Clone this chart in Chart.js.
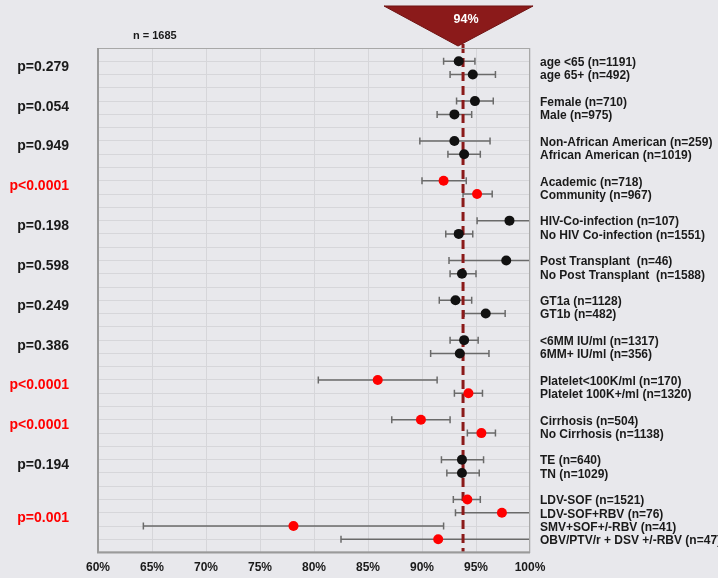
<!DOCTYPE html>
<html>
<head>
<meta charset="utf-8">
<script src="https://cdn.jsdelivr.net/npm/chart.js@4/dist/chart.umd.min.js"></script>
<style>
  html, body { margin: 0; padding: 0; background: #e8e8ec; }
  #wrap { width: 718px; height: 578px; }
</style>
</head>
<body>
<div id="wrap"><canvas id="c"></canvas></div>
<script>
// subgroup labels, row positions (rows counted from the top), SVR % and 95% CI
const labels = [
  'age <65 (n=1191)', 'age 65+ (n=492)',
  'Female (n=710)', 'Male (n=975)',
  'Non-African American (n=259)', 'African American (n=1019)',
  'Academic (n=718)', 'Community (n=967)',
  'HIV-Co-infection (n=107)', 'No HIV Co-infection (n=1551)',
  'Post Transplant  (n=46)', 'No Post Transplant  (n=1588)',
  'GT1a (n=1128)', 'GT1b (n=482)',
  '<6MM IU/ml (n=1317)', '6MM+ IU/ml (n=356)',
  'Platelet<100K/ml (n=170)', 'Platelet 100K+/ml (n=1320)',
  'Cirrhosis (n=504)', 'No Cirrhosis (n=1138)',
  'TE (n=640)', 'TN (n=1029)',
  'LDV-SOF (n=1521)', 'LDV-SOF+RBV (n=76)', 'SMV+SOF+/-RBV (n=41)', 'OBV/PTV/r + DSV +/-RBV (n=47)'
];
const rows = [1, 2, 4, 5, 7, 8, 10, 11, 13, 14, 16, 17, 19, 20, 22, 23, 25, 26, 28, 29, 31, 32, 34, 35, 36, 37];
const svr  = [93.4, 94.7, 94.9, 93.0, 93.0, 93.9, 92.0, 95.1, 98.1, 93.4, 97.8, 93.7, 93.1, 95.9,
              93.9, 93.5, 85.9, 94.3, 89.9, 95.5, 93.7, 93.7, 94.2, 97.4, 78.1, 91.5];
const ciLow  = [92.0, 92.6, 93.2, 91.4, 89.8, 92.4, 90.0, 93.8, 95.1, 92.2, 92.5, 92.6, 91.6, 93.9,
                92.6, 90.8, 80.4, 93.0, 87.2, 94.2, 91.8, 92.3, 92.9, 93.1, 64.2, 82.5];
const ciHigh = [94.9, 96.8, 96.6, 94.6, 96.3, 95.4, 94.1, 96.5, 100, 94.7, 100, 95.0, 94.6, 97.7,
                95.2, 96.2, 91.4, 95.6, 92.6, 96.8, 95.7, 95.3, 95.4, 100, 92.0, 100];
const significant = [0, 0, 0, 0, 0, 0, 1, 1, 0, 0, 0, 0, 0, 0, 0, 0, 1, 1, 1, 1, 0, 0, 1, 1, 1, 1];

const pValues = ['p=0.279', 'p=0.054', 'p=0.949', 'p<0.0001', 'p=0.198', 'p=0.598', 'p=0.249',
                 'p=0.386', 'p<0.0001', 'p<0.0001', 'p=0.194', 'p=0.001'];
const pRows = [1.5, 4.5, 7.5, 10.5, 13.5, 16.5, 19.5, 22.5, 25.5, 28.5, 31.5, 35.5];
const pSignificant = [0, 0, 0, 1, 0, 0, 0, 0, 1, 1, 0, 1];

const overall = 93.8;
const overallLabel = '94%';
const totalN = 'n = 1685';
const xTicks = [60, 65, 70, 75, 80, 85, 90, 95, 100];

const RED = '#ff0000';
const DARK = '#111111';

const points = svr.map((v, i) => ({ x: v, y: rows[i] }));
const pointColors = significant.map(s => s ? RED : DARK);

const forestPlugin = {
  id: 'forest',
  beforeDatasetsDraw(chart) {
    const { ctx, chartArea: a, scales: { x, y } } = chart;
    ctx.save();
    ctx.beginPath();
    ctx.rect(a.left, a.top, a.right - a.left, a.bottom - a.top);
    ctx.clip();
    ctx.strokeStyle = '#6a6a6a';
    ctx.lineWidth = 1.5;
    rows.forEach((r, i) => {
      const py = y.getPixelForValue(r);
      const x0 = x.getPixelForValue(ciLow[i]);
      const x1 = x.getPixelForValue(ciHigh[i]);
      ctx.beginPath();
      ctx.moveTo(x0, py); ctx.lineTo(x1, py);
      ctx.moveTo(x0, py - 3.5); ctx.lineTo(x0, py + 3.5);
      if (ciHigh[i] < 100) { ctx.moveTo(x1, py - 3.5); ctx.lineTo(x1, py + 3.5); }
      ctx.stroke();
    });
    ctx.restore();

    // overall dashed line
    const ox = x.getPixelForValue(overall);
    ctx.save();
    ctx.strokeStyle = '#8b1a1a';
    ctx.lineWidth = 3;
    ctx.setLineDash([9, 5]);
    ctx.beginPath();
    ctx.moveTo(ox, a.top - 4);
    ctx.lineTo(ox, a.bottom);
    ctx.stroke();
    ctx.restore();
  },
  afterDraw(chart) {
    const { ctx, chartArea: a, scales: { x, y } } = chart;
    ctx.save();
    // frame
    ctx.strokeStyle = '#a8a8a8';
    ctx.lineWidth = 1;
    ctx.strokeRect(a.left + 0.5, a.top + 0.5, a.right - a.left - 1, a.bottom - a.top - 1);
    ctx.strokeStyle = '#9a9a9a';
    ctx.lineWidth = 2;
    ctx.beginPath();
    ctx.moveTo(a.left, a.top); ctx.lineTo(a.left, a.bottom); ctx.lineTo(a.right, a.bottom);
    ctx.stroke();

    // subgroup labels
    ctx.font = 'bold 12px "Liberation Sans", Arial, sans-serif';
    ctx.fillStyle = '#1a1a1a';
    ctx.textAlign = 'left';
    ctx.textBaseline = 'middle';
    labels.forEach((t, i) => ctx.fillText(t, a.right + 10, y.getPixelForValue(rows[i]) + 1.5));

    // p values
    ctx.font = 'bold 14px "Liberation Sans", Arial, sans-serif';
    ctx.textAlign = 'right';
    pValues.forEach((t, i) => {
      ctx.fillStyle = pSignificant[i] ? RED : '#1a1a1a';
      ctx.fillText(t, 69, y.getPixelForValue(pRows[i]) - 1);
    });

    // n label
    ctx.font = 'bold 11px "Liberation Sans", Arial, sans-serif';
    ctx.fillStyle = '#1a1a1a';
    ctx.textAlign = 'left';
    ctx.fillText(totalN, 133, 36);

    // overall triangle marker
    const ox = x.getPixelForValue(overall);
    ctx.fillStyle = '#8b1a1a';
    ctx.strokeStyle = '#6e1212';
    ctx.lineWidth = 1;
    ctx.beginPath();
    ctx.moveTo(ox - 79, 6);
    ctx.lineTo(ox + 70, 6);
    ctx.lineTo(ox - 5, 46);
    ctx.closePath();
    ctx.fill();
    ctx.stroke();
    ctx.font = 'bold 12.5px "Liberation Sans", Arial, sans-serif';
    ctx.fillStyle = '#ffffff';
    ctx.textAlign = 'center';
    ctx.fillText(overallLabel, ox + 3, 20);
    ctx.restore();
  }
};

new Chart(document.getElementById('c'), {
  type: 'scatter',
  data: {
    datasets: [{
      data: points,
      pointBackgroundColor: pointColors,
      pointBorderColor: pointColors,
      pointRadius: 5,
      pointHoverRadius: 5,
      borderWidth: 0
    }]
  },
  options: {
    responsive: true,
    maintainAspectRatio: false,
    animation: false,
    events: [],
    layout: { padding: { left: 98, right: 188, top: 48, bottom: -5 } },
    plugins: { legend: { display: false }, tooltip: { enabled: false } },
    scales: {
      x: {
        type: 'linear', min: 60, max: 100,
        afterBuildTicks: s => { s.ticks = xTicks.map(v => ({ value: v })); },
        ticks: {
          callback: v => v + '%',
          font: { family: '"Liberation Sans", Arial, sans-serif', size: 12, weight: 'bold' },
          color: '#1a1a1a', padding: 8, maxRotation: 0
        },
        grid: { color: '#d6d6da', lineWidth: 1, drawTicks: false },
        border: { display: false }
      },
      y: {
        type: 'linear', min: 0, max: 38, reverse: true,
        ticks: { display: false, stepSize: 1 },
        afterFit: s => { s.width = 0; },
        grid: { color: '#d6d6da', lineWidth: 1, drawTicks: false },
        border: { display: false }
      }
    }
  },
  plugins: [forestPlugin]
});
</script>
</body>
</html>
